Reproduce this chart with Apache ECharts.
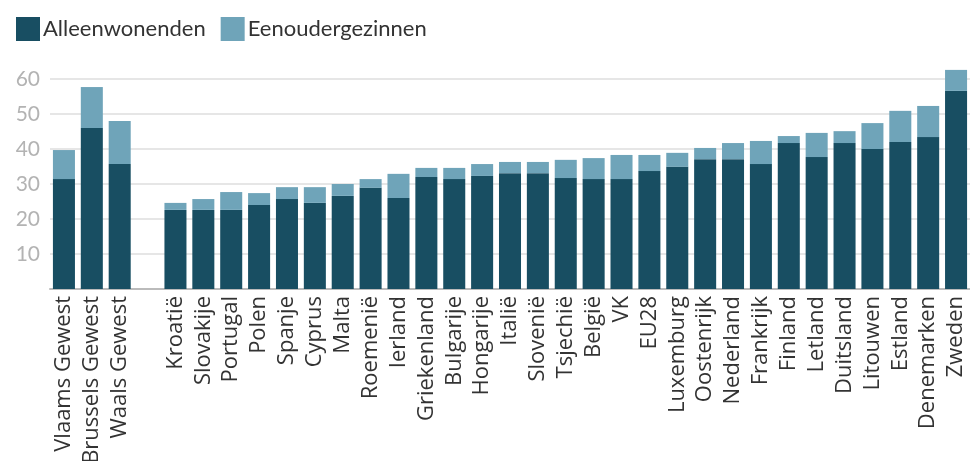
<!DOCTYPE html>
<html>
<head>
<meta charset="utf-8">
<script src="https://cdn.jsdelivr.net/npm/echarts@6/dist/echarts.min.js"></script>
<style>html,body{margin:0;padding:0;background:#fff;}#c{width:970px;height:461px;}</style>
</head>
<body>
<div id="c"></div>
<script>
const categories = ['Vlaams Gewest','Brussels Gewest','Waals Gewest','','Kroatië','Slovakije','Portugal','Polen','Spanje','Cyprus','Malta','Roemenië','Ierland','Griekenland','Bulgarije','Hongarije','Italië','Slovenië','Tsjechië','België','VK','EU28','Luxemburg','Oostenrijk','Nederland','Frankrijk','Finland','Letland','Duitsland','Litouwen','Estland','Denemarken','Zweden'];
const alleenwonenden = [31.4,46.0,35.7,null,22.6,22.6,22.6,24.0,25.7,24.6,26.6,28.9,26.0,32.0,31.4,32.3,33.1,33.1,31.7,31.4,31.4,33.7,34.9,37.1,37.1,35.7,41.7,37.7,41.7,40.0,42.0,43.4,56.6];
const eenoudergezinnen = [8.3,11.7,12.3,null,2.0,3.1,5.1,3.4,3.4,4.5,3.4,2.5,6.9,2.6,3.2,3.4,3.2,3.2,5.2,6.0,6.9,4.6,4.0,3.2,4.6,6.6,2.0,6.9,3.4,7.4,8.9,8.9,6.0];
const yTicks = [0,10,20,30,40,50,60];

const chart = echarts.init(document.getElementById('c'));
chart.setOption({
  animation: false,
  legend: {
    left: 11, top: 12, itemWidth: 24, itemHeight: 24, itemGap: 15, icon: 'rect',
    textStyle: {fontFamily: 'Lato', fontSize: 22, color: '#333', padding: [0,0,0,-2]},
    data: ['Alleenwonenden','Eenoudergezinnen']
  },
  grid: {left: 50, right: 0, top: 79, bottom: 172, containLabel: false, outerBoundsMode: 'none'},
  xAxis: {
    type: 'category', data: categories,
    axisTick: {show: false},
    axisLine: {lineStyle: {color: '#bbbbbb', width: 2}},
    axisLabel: {rotate: 90, interval: 0, fontFamily: 'Open Sans', fontSize: 22, color: '#333', margin: 7}
  },
  yAxis: {
    type: 'value', min: yTicks[0], max: yTicks[yTicks.length-1], interval: 10,
    axisLine: {show: false}, axisTick: {show: false},
    splitLine: {lineStyle: {color: '#e6e6e6', width: 2}},
    axisLabel: {fontFamily: 'Lato', fontSize: 21, color: '#b3b3b3', margin: 10,
      formatter: v => v === 0 ? '' : String(v)}
  },
  series: [
    {name: 'Alleenwonenden', type: 'bar', stack: 't', data: alleenwonenden, clip: false,
     barCategoryGap: '21%', itemStyle: {color: '#184e62'}},
    {name: 'Eenoudergezinnen', type: 'bar', stack: 't', data: eenoudergezinnen, clip: false,
     barCategoryGap: '21%', itemStyle: {color: '#6fa4b9'}}
  ]
});
</script>
</body>
</html>
